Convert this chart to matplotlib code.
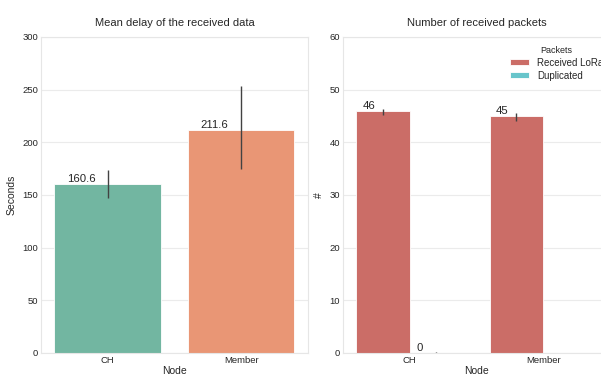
import numpy as np
import matplotlib
matplotlib.use("Agg")
import matplotlib.pyplot as plt
import seaborn as sns

nodes = ["CH", "Member"]

# mean delay (s) and error bar limits
delay_mean = [160.6, 211.6]
delay_low = [147.0, 174.7]
delay_high = [173.8, 253.6]

# packet counts per hue
packet_types = ["Received LoRa", "Duplicated"]
received_mean = [46, 45]
received_low = [45.2, 44.0]
received_high = [46.3, 45.5]
dup_mean = [0, np.nan]
dup_low = [0, np.nan]
dup_high = [0.1, np.nan]

sns.set_style("whitegrid")
plt.rcParams["font.family"] = ["Liberation Sans", "DejaVu Sans"]
plt.rcParams["axes.edgecolor"] = "#e6e6e6"
plt.rcParams["grid.color"] = "#ebebeb"
plt.rcParams["text.color"] = ".15"
plt.rcParams["axes.labelcolor"] = ".15"
plt.rcParams["xtick.color"] = ".15"
plt.rcParams["ytick.color"] = ".15"

fig = plt.figure(figsize=(6.01, 3.77), dpi=100)
ax1 = fig.add_axes([0.0682, 0.0637, 0.444, 0.8382])
ax2 = fig.add_axes([0.5707, 0.0637, 0.444, 0.8382])

left_colors = [sns.desaturate(c, 0.75) for c in sns.color_palette("Set2", 2)]
right_colors = [sns.desaturate(c, 0.75) for c in sns.color_palette("hls", 2)]

x = np.arange(len(nodes))
err_kw = dict(ecolor=".26", elinewidth=1.0, capsize=0)


def add_labels(ax, bars, vals, fmt, off):
    for b, v in zip(bars, vals):
        if np.isnan(v):
            continue
        ax.text(b.get_x() + b.get_width() * off, v, fmt.format(v),
                ha="left", va="bottom", fontsize=8.2)


# left: mean delay
yerr = [np.array(delay_mean) - delay_low, np.array(delay_high) - delay_mean]
bars = ax1.bar(x, delay_mean, width=0.8, color=left_colors, yerr=yerr,
               edgecolor="white", linewidth=0.6, error_kw=err_kw)
add_labels(ax1, bars, delay_mean, "{:.1f}", 0.12)
ax1.set_xlim(-0.5, 1.5)
ax1.set_ylim(0, 300)
ax1.set_yticks(range(0, 301, 50))
ax1.set_xticks(x)
ax1.set_xticklabels(nodes)
ax1.set_title("Mean delay of the received data", fontsize=8, pad=8)
ax1.set_ylabel("Seconds", fontsize=7.5, labelpad=4)
ax1.set_xlabel("Node", fontsize=7.5, labelpad=1)

# right: packet counts
w = 0.4
r_mean = np.array(received_mean, dtype=float)
d_mean = np.array(dup_mean, dtype=float)
r_err = [r_mean - received_low, np.array(received_high) - r_mean]
d_err = [d_mean - np.array(dup_low), np.array(dup_high) - d_mean]
b1 = ax2.bar(x - w / 2, r_mean, width=w, color=right_colors[0], yerr=r_err,
             edgecolor="white", linewidth=0.6, error_kw=err_kw, label=packet_types[0])
b2 = ax2.bar(x + w / 2, d_mean, width=w, color=right_colors[1], yerr=d_err,
             edgecolor="white", linewidth=0.6, error_kw=err_kw, label=packet_types[1])
add_labels(ax2, b1, r_mean, "{:.0f}", 0.12)
add_labels(ax2, b2, d_mean, "{:.0f}", 0.12)
ax2.set_xlim(-0.5, 1.5)
ax2.set_ylim(0, 60)
ax2.set_yticks(range(0, 61, 10))
ax2.set_xticks(x)
ax2.set_xticklabels(nodes)
ax2.set_title("Number of received packets", fontsize=8, pad=8)
ax2.set_ylabel("#", fontsize=7.5, labelpad=4)
ax2.set_xlabel("Node", fontsize=7.5, labelpad=1)
ax2.legend(title="Packets", loc="upper left", bbox_to_anchor=(0.842, 0.889),
           bbox_transform=fig.transFigure, frameon=False, fontsize=7,
           title_fontsize=6.5, borderaxespad=0, handlelength=2.0,
           handleheight=0.6, labelspacing=0.3)

for ax in (ax1, ax2):
    ax.tick_params(axis="both", labelsize=6.8, pad=2, length=0)
    ax.grid(axis="x", visible=False)
    ax.set_axisbelow(True)

fig.savefig("out.png", dpi=100)
